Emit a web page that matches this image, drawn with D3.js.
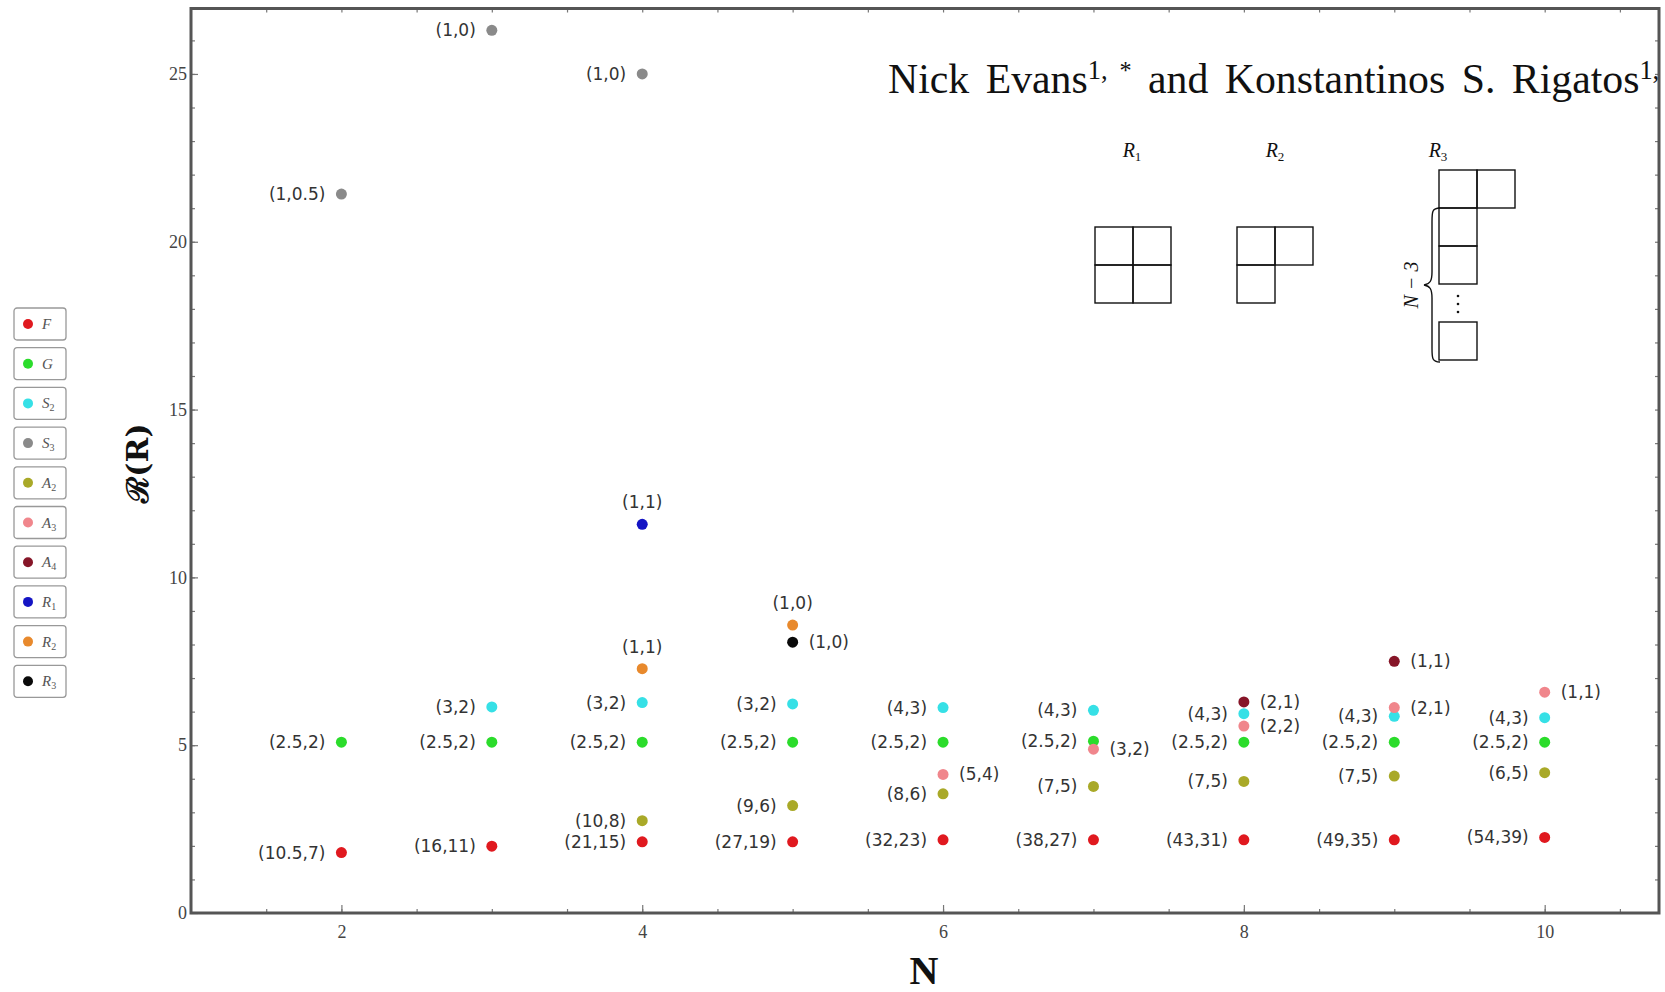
<!DOCTYPE html>
<html>
<head>
<meta charset="utf-8">
<script src="https://cdn.jsdelivr.net/npm/d3@7"></script>
<style>
  body { margin: 0; background: #fff; }
  svg { display: block; }
</style>
</head>
<body>
<div id="chart"></div>
<script>
// series keys, legend order
const seriesKeys = ['F', 'G', 'S2', 'S3', 'A2', 'A3', 'A4', 'R1', 'R2', 'R3'];
const seriesColors = ['#e0191f', '#2bdc2b', '#36e0e6', '#8a8a8a', '#a9a928', '#f0868c', '#861528', '#1414c4', '#e8892c', '#0a0a0a'];

// values
const nF = [2, 3, 4, 5, 6, 7, 8, 9, 10];
const valF = [1.80, 1.99, 2.12, 2.12, 2.18, 2.18, 2.18, 2.18, 2.25];
const labF = ['(10.5,7)', '(16,11)', '(21,15)', '(27,19)', '(32,23)', '(38,27)', '(43,31)', '(49,35)', '(54,39)'];

const nG = [2, 3, 4, 5, 6, 7, 8, 9, 10];
const valG = [5.09, 5.09, 5.09, 5.09, 5.09, 5.12, 5.09, 5.09, 5.09];
const labG = ['(2.5,2)', '(2.5,2)', '(2.5,2)', '(2.5,2)', '(2.5,2)', '(2.5,2)', '(2.5,2)', '(2.5,2)', '(2.5,2)'];

const nS2 = [3, 4, 5, 6, 7, 8, 9, 10];
const valS2 = [6.14, 6.27, 6.23, 6.12, 6.04, 5.94, 5.86, 5.82];
const labS2 = ['(3,2)', '(3,2)', '(3,2)', '(4,3)', '(4,3)', '(4,3)', '(4,3)', '(4,3)'];

const nS3 = [2, 3, 4];
const valS3 = [21.42, 26.3, 25.0];
const labS3 = ['(1,0.5)', '(1,0)', '(1,0)'];

const nA2 = [4, 5, 6, 7, 8, 9, 10];
const valA2 = [2.75, 3.2, 3.55, 3.77, 3.92, 4.08, 4.18];
const labA2 = ['(10,8)', '(9,6)', '(8,6)', '(7,5)', '(7,5)', '(7,5)', '(6,5)'];

const nA3 = [6, 7, 8, 9, 10];
const valA3 = [4.13, 4.88, 5.57, 6.12, 6.58];
const labA3 = ['(5,4)', '(3,2)', '(2,2)', '(2,1)', '(1,1)'];

const nA4 = [8, 9];
const valA4 = [6.29, 7.5];
const labA4 = ['(2,1)', '(1,1)'];

const nR1 = [4];
const valR1 = [11.58];
const labR1 = ['(1,1)'];

const nR2 = [4, 5];
const valR2 = [7.28, 8.58];
const labR2 = ['(1,1)', '(1,0)'];

const nR3 = [5];
const valR3 = [8.07];
const labR3 = ['(1,0)'];

const xTicks = [2, 4, 6, 8, 10];
const yTicks = [0, 5, 10, 15, 20, 25];

const seriesData = {
  F: [nF, valF, labF], G: [nG, valG, labG], S2: [nS2, valS2, labS2], S3: [nS3, valS3, labS3],
  A2: [nA2, valA2, labA2], A3: [nA3, valA3, labA3], A4: [nA4, valA4, labA4],
  R1: [nR1, valR1, labR1], R2: [nR2, valR2, labR2], R3: [nR3, valR3, labR3]
};

// where each series puts its point labels
const labelSide = { A3: 'right', A4: 'right', R1: 'above', R2: 'above', R3: 'right' };

const width = 1665, height = 992;
const margin = { top: 8.5, right: 6, bottom: 79, left: 191 };

const svg = d3.select('#chart').append('svg')
    .attr('width', width)
    .attr('height', height);

const x = d3.scaleLinear()
    .domain([1, 10.76])
    .range([margin.left, width - margin.right]);

const y = d3.scaleLinear()
    .domain([0, 26.95])
    .range([height - margin.bottom, margin.top]);

// frame + ticks
const frameColor = '#555';
const axisG = svg.append('g').attr('class', 'axes');

const xMinor = d3.range(1.5, 10.76, 0.5);
const yMinor = d3.range(1, 27, 1);

axisG.append('g')
    .attr('transform', `translate(0,${y(0)})`)
    .call(d3.axisBottom(x).tickValues(xMinor).tickSize(-4).tickFormat(''));
axisG.append('g')
    .attr('transform', `translate(0,${y(0)})`)
    .call(d3.axisBottom(x).tickValues(xTicks).tickSize(-8).tickPadding(12).tickFormat(d3.format('d')));
axisG.append('g')
    .attr('transform', `translate(0,${margin.top})`)
    .call(d3.axisTop(x).tickValues(xMinor).tickSize(-4).tickFormat(''));
axisG.append('g')
    .attr('transform', `translate(${x(1)},0)`)
    .call(d3.axisLeft(y).tickValues(yMinor).tickSize(-4).tickFormat(''));
axisG.append('g')
    .attr('transform', `translate(${x(1)},0)`)
    .call(d3.axisLeft(y).tickValues(yTicks).tickSize(-7).tickPadding(4).tickFormat(d3.format('d')));
axisG.append('g')
    .attr('transform', `translate(${x(10.76)},0)`)
    .call(d3.axisRight(y).tickValues(yMinor).tickSize(-4).tickFormat(''));

axisG.selectAll('.domain').remove();
axisG.selectAll('.tick line').attr('stroke', '#777').attr('stroke-width', 1.2);
axisG.selectAll('.tick text')
    .attr('fill', '#444')
    .style('font-family', '"Liberation Serif", serif')
    .style('font-size', '18px');

axisG.append('rect')
    .attr('x', x(1))
    .attr('y', y(26.95))
    .attr('width', x(10.76) - x(1))
    .attr('height', y(0) - y(26.95))
    .attr('fill', 'none')
    .attr('stroke', frameColor)
    .attr('stroke-width', 3);

// axis titles
svg.append('text')
    .attr('x', 924)
    .attr('y', 984)
    .attr('text-anchor', 'middle')
    .style('font-family', '"Liberation Serif", serif')
    .style('font-weight', 'bold')
    .style('font-size', '40px')
    .attr('fill', '#111')
    .text('N');

svg.append('text')
    .attr('transform', 'translate(148,463) rotate(-90)')
    .attr('text-anchor', 'middle')
    .style('font-family', '"DejaVu Serif", serif')
    .style('font-weight', 'bold')
    .style('font-size', '30px')
    .attr('fill', '#111')
    .text('ℛ(R)');

// points and labels
const pointsG = svg.append('g').attr('class', 'points');
const labelFont = '"DejaVu Sans", sans-serif';

seriesKeys.forEach((key, i) => {
  const [ns, vals, labs] = seriesData[key];
  const pts = ns.map((n, j) => ({ n, v: vals[j], lab: labs[j] }));
  const side = labelSide[key] || 'left';

  pointsG.append('g')
    .selectAll('circle')
      .data(pts)
    .enter().append('circle')
      .attr('cx', d => x(d.n))
      .attr('cy', d => y(d.v))
      .attr('r', 5.5)
      .attr('fill', seriesColors[i]);

  pointsG.append('g')
    .selectAll('text')
      .data(pts)
    .enter().append('text')
      .attr('x', d => side === 'left' ? x(d.n) - 16 : side === 'right' ? x(d.n) + 16 : x(d.n))
      .attr('y', d => side === 'above' ? y(d.v) - 16 : y(d.v) + 6)
      .attr('text-anchor', side === 'left' ? 'end' : side === 'right' ? 'start' : 'middle')
      .attr('fill', '#333')
      .style('font-family', labelFont)
      .style('font-size', '17px')
      .text(d => d.lab);
});

// legend
const legendNames = [['F', ''], ['G', ''], ['S', '2'], ['S', '3'], ['A', '2'], ['A', '3'], ['A', '4'], ['R', '1'], ['R', '2'], ['R', '3']];
const legend = svg.append('g')
    .attr('class', 'legend')
  .selectAll('g')
    .data(seriesKeys)
  .enter().append('g')
    .attr('transform', (d, i) => `translate(14,${308 + i * 39.7})`);

legend.append('rect')
    .attr('width', 52)
    .attr('height', 32)
    .attr('rx', 3)
    .attr('fill', '#fff')
    .attr('stroke', '#999')
    .attr('stroke-width', 1.3);

legend.append('circle')
    .attr('cx', 14)
    .attr('cy', 16)
    .attr('r', 5)
    .attr('fill', (d, i) => seriesColors[i]);

const legText = legend.append('text')
    .attr('x', 28)
    .attr('y', 21)
    .attr('fill', '#555')
    .style('font-family', '"Liberation Serif", serif')
    .style('font-style', 'italic')
    .style('font-size', '15px');
legText.append('tspan').text((d, i) => legendNames[i][0]);
legText.append('tspan')
    .attr('dy', 3)
    .style('font-style', 'normal')
    .style('font-size', '10px')
    .text((d, i) => legendNames[i][1]);

// title line pasted at top right
const title = svg.append('text')
    .attr('x', 888)
    .attr('y', 93)
    .attr('fill', '#111')
    .style('font-family', '"Liberation Serif", serif')
    .style('font-size', '38px')
    .style('word-spacing', '6px');
title.append('tspan').text('Nick Evans');
title.append('tspan').attr('dy', -14).attr('class', 'sup').text('1,');
title.append('tspan').attr('class', 'star').text(' *');
title.append('tspan').attr('dy', 14).text(' and Konstantinos S. Rigatos');
title.append('tspan').attr('dy', -14).attr('class', 'sup').text('1,');
title.selectAll('.sup').style('font-size', '24px');
title.selectAll('.star').style('font-size', '22px');
const tw = title.node().getBBox().width;
const k = 775 / tw;
title.style('font-size', `${38 * k}px`);
title.selectAll('.sup').style('font-size', `${24 * k}px`);
title.selectAll('.star').style('font-size', `${22 * k}px`);

// Young diagrams
const cell = 38;
const yd = svg.append('g').attr('class', 'young')
    .attr('fill', 'none')
    .attr('stroke', '#111')
    .attr('stroke-width', 1.4);

const diagrams = [
  { ox: 1095, oy: 227, cells: [[0, 0], [1, 0], [0, 1], [1, 1]] },
  { ox: 1237, oy: 227, cells: [[0, 0], [1, 0], [0, 1]] },
  { ox: 1439, oy: 170, cells: [[0, 0], [1, 0], [0, 1], [0, 2], [0, 4]] }
];
diagrams.forEach(dg => {
  yd.append('g').selectAll('rect')
      .data(dg.cells)
    .enter().append('rect')
      .attr('x', c => dg.ox + c[0] * cell)
      .attr('y', c => dg.oy + c[1] * cell)
      .attr('width', cell)
      .attr('height', cell);
});

// dots in the R3 column
svg.append('g').selectAll('circle')
    .data([0, 1, 2])
  .enter().append('circle')
    .attr('cx', 1458)
    .attr('cy', d => 296 + d * 8)
    .attr('r', 1.3)
    .attr('fill', '#111');

// brace for N-3
svg.append('path')
    .attr('d', 'M1440,208 C1432,208 1432,212 1432,222 L1432,272 C1432,281 1430,284 1424,285 C1430,286 1432,289 1432,298 L1432,348 C1432,358 1432,362 1440,362')
    .attr('fill', 'none')
    .attr('stroke', '#111')
    .attr('stroke-width', 1.4);

svg.append('text')
    .attr('transform', 'translate(1418,285) rotate(-90)')
    .attr('text-anchor', 'middle')
    .attr('fill', '#111')
    .style('font-family', '"Liberation Serif", serif')
    .style('font-style', 'italic')
    .style('font-size', '20px')
    .text('N − 3');

// R labels
const rLabels = [['R', '1', 1132], ['R', '2', 1275], ['R', '3', 1438]];
rLabels.forEach(r => {
  const t = svg.append('text')
      .attr('x', r[2])
      .attr('y', 157)
      .attr('text-anchor', 'middle')
      .attr('fill', '#111')
      .style('font-family', '"Liberation Serif", serif')
      .style('font-size', '20px');
  t.append('tspan').style('font-style', 'italic').text(r[0]);
  t.append('tspan').attr('dy', 4).style('font-size', '13px').text(r[1]);
});
</script>
</body>
</html>
